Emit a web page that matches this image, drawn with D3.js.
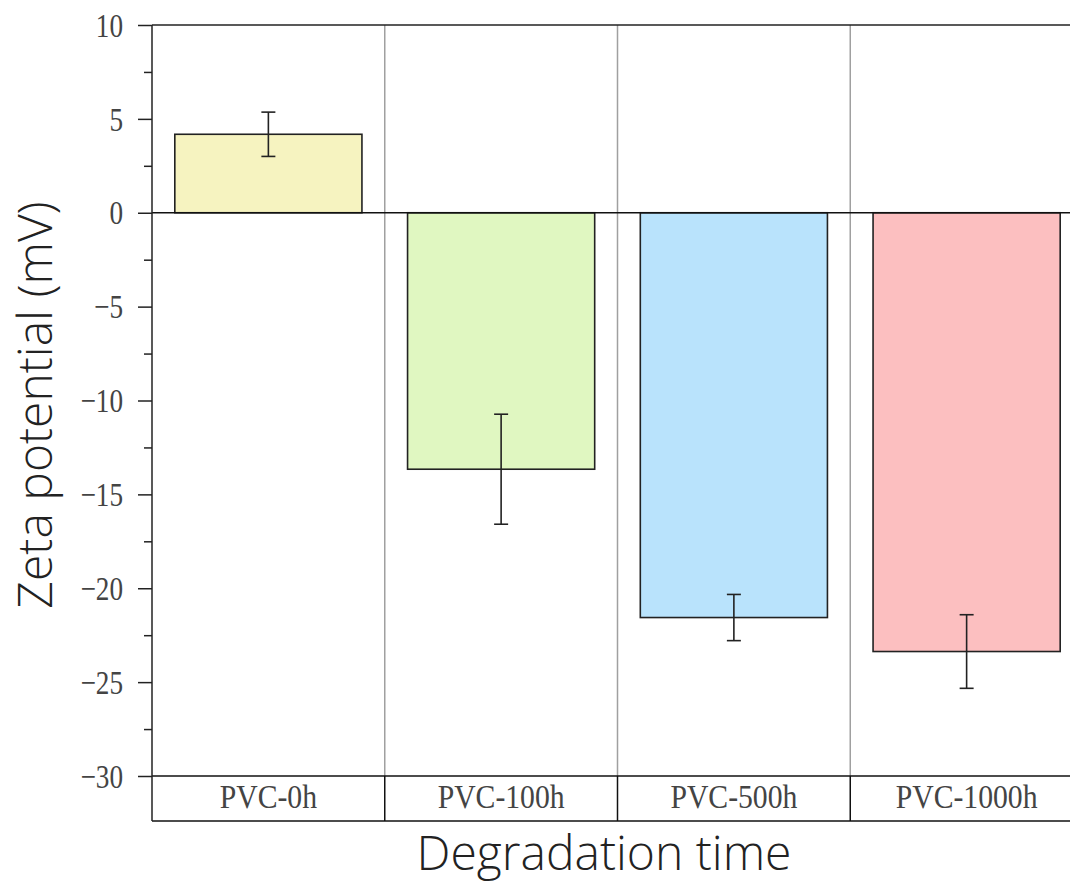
<!DOCTYPE html>
<html>
<head>
<meta charset="utf-8">
<script src="https://cdn.jsdelivr.net/npm/d3@7"></script>
<style>
  html, body { margin: 0; padding: 0; background: #fff; overflow: hidden; }
  svg { display: block; }
</style>
</head>
<body>
<svg id="chart" width="1070" height="883"></svg>
<script>
// ---- data ----
const categories = ["PVC-0h", "PVC-100h", "PVC-500h", "PVC-1000h"];
const values = [4.18, -13.66, -21.56, -23.37];
const errors = [1.18, 2.93, 1.23, 1.96];
const colors = ["#f6f3c0", "#e0f7c1", "#b9e3fc", "#fcbfc0"];
const yTicks = [-30, -25, -20, -15, -10, -5, 0, 5, 10];
const yMinorTicks = [-27.5, -22.5, -17.5, -12.5, -7.5, -2.5, 2.5, 7.5];
const xTitle = "Degradation time";
const yTitle = "Zeta potential (mV)";

(function () {
// ---- layout ----
const svg = d3.select("#chart");
const pL = 152, pR = 1083, pT = 25, pB = 776, stripBottom = 821;

const y = d3.scaleLinear().domain([-30, 10]).range([pB, pT]);
const cell = d3.scaleBand().domain(categories).range([pL, pR]).padding(0);
const x = d3.scaleBand().domain(categories).range([pL, pR])
  .paddingInner(0.196).paddingOuter(0.098);

const serif = "'Liberation Serif', 'DejaVu Serif', serif";
const sans = "'Open Sans', 'Noto Sans', sans-serif";

// vertical grid lines between categories (gray, in plot area)
svg.append("g").selectAll("line")
  .data(categories.slice(1))
  .join("line")
  .attr("x1", d => cell(d)).attr("x2", d => cell(d))
  .attr("y1", pT).attr("y2", pB)
  .attr("stroke", "#a0a0a0").attr("stroke-width", 1.5);

// bars
svg.append("g").selectAll("rect")
  .data(categories)
  .join("rect")
  .attr("x", d => x(d))
  .attr("width", x.bandwidth())
  .attr("y", (d, i) => y(Math.max(0, values[i])))
  .attr("height", (d, i) => Math.abs(y(values[i]) - y(0)))
  .attr("fill", (d, i) => colors[i])
  .attr("stroke", "#222").attr("stroke-width", 1.6);

// error bars
const eb = svg.append("g").attr("stroke", "#222").attr("stroke-width", 1.6);
categories.forEach((c, i) => {
  const cx = x(c) + x.bandwidth() / 2;
  const hi = y(values[i] + errors[i]), lo = y(values[i] - errors[i]);
  eb.append("line").attr("x1", cx).attr("x2", cx).attr("y1", hi).attr("y2", lo);
  eb.append("line").attr("x1", cx - 7).attr("x2", cx + 7).attr("y1", hi).attr("y2", hi);
  eb.append("line").attr("x1", cx - 7).attr("x2", cx + 7).attr("y1", lo).attr("y2", lo);
});

// zero line
svg.append("line")
  .attr("x1", pL).attr("x2", pR)
  .attr("y1", y(0)).attr("y2", y(0))
  .attr("stroke", "#111").attr("stroke-width", 1.5);

// top border and bottom border of plot
svg.append("line").attr("x1", pL).attr("x2", pR)
  .attr("y1", pT).attr("y2", pT).attr("stroke", "#222").attr("stroke-width", 1.5);
svg.append("line").attr("x1", pL).attr("x2", pR)
  .attr("y1", pB).attr("y2", pB).attr("stroke", "#111").attr("stroke-width", 1.5);

// category strip
const strip = svg.append("g");
strip.append("line").attr("x1", pL).attr("x2", pR)
  .attr("y1", stripBottom).attr("y2", stripBottom).attr("stroke", "#111").attr("stroke-width", 1.5);
strip.selectAll("line.div")
  .data(categories.slice(1))
  .join("line").attr("class", "div")
  .attr("x1", d => cell(d)).attr("x2", d => cell(d))
  .attr("y1", pB).attr("y2", stripBottom)
  .attr("stroke", "#111").attr("stroke-width", 1.5);
strip.selectAll("text")
  .data(categories)
  .join("text")
  .attr("transform", d => `translate(${cell(d) + cell.bandwidth() / 2},808) scale(0.9,1)`)
  .attr("text-anchor", "middle")
  .attr("font-family", serif).attr("font-size", 33)
  .attr("fill", "#444")
  .text(d => d);

// y axis
const yAxis = svg.append("g")
  .attr("transform", `translate(${pL},0)`)
  .call(d3.axisLeft(y).tickValues(yTicks).tickSize(14).tickPadding(15).tickSizeOuter(0));
yAxis.select(".domain").attr("stroke", "#222").attr("stroke-width", 1.5)
  .attr("d", `M0,${pT}V${stripBottom}`);
yAxis.selectAll(".tick line").attr("stroke", "#222").attr("stroke-width", 1.5);
yAxis.selectAll(".tick text")
  .attr("font-family", serif).attr("font-size", 34).attr("fill", "#444")
  .attr("x", -29 / 0.8).attr("dy", "0.33em")
  .attr("transform", "scale(0.8,1)");

// minor ticks
svg.append("g").attr("transform", `translate(${pL},0)`)
  .call(d3.axisLeft(y).tickValues(yMinorTicks).tickSize(8).tickFormat(""))
  .call(g => g.select(".domain").remove())
  .call(g => g.selectAll(".tick line").attr("stroke", "#222").attr("stroke-width", 1.5));

// axis titles
svg.append("text")
  .attr("x", 604).attr("y", 870)
  .attr("text-anchor", "middle")
  .attr("font-family", sans).attr("font-size", 48).attr("font-weight", 300).attr("fill", "#222")
  .text(xTitle);
svg.append("text")
  .attr("transform", "translate(52,405) rotate(-90)")
  .attr("text-anchor", "middle")
  .attr("font-family", sans).attr("font-size", 48).attr("font-weight", 300).attr("fill", "#222")
  .text(yTitle);
})();
</script>
</body>
</html>
